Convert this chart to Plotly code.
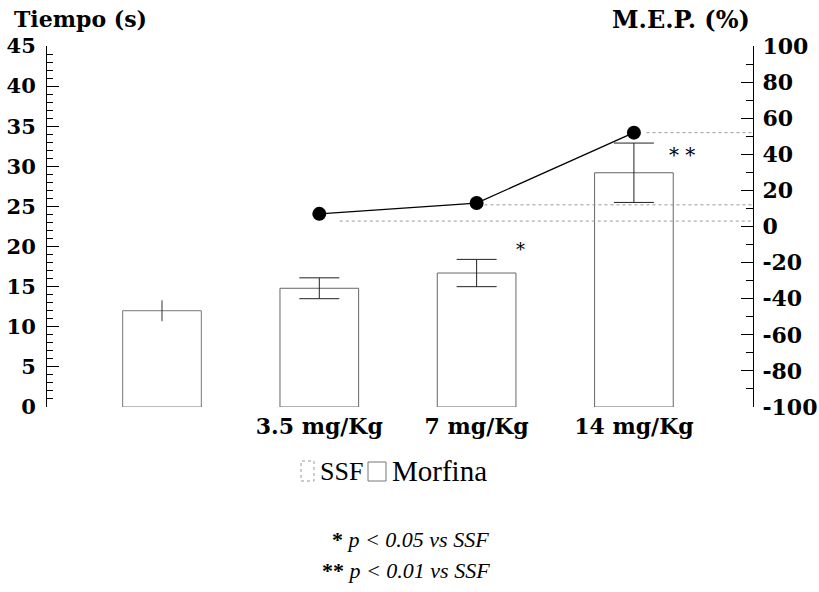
import plotly.graph_objects as go

# Latency (s) per group
categories = ["", "3.5 mg/Kg", "7 mg/Kg", "14 mg/Kg"]
ssf_time = [12.0]
ssf_err = [1.3]
morf_time = [14.8, 16.7, 29.2]
morf_err = [1.3, 1.7, 3.7]

# Maximum possible effect (%) for the morphine doses
mep = [7, 13, 52]
mep_ref = [3, 12, 52]
mep_ref_start = [1.13, 2.05, 3.08]

# right-axis tick labels (plain hyphen for negatives)
mep_ticks = [-100, -80, -60, -40, -20, 0, 20, 40, 60, 80, 100]
mep_ticktext = [str(v) if v >= 0 else "-" + str(-v) for v in mep_ticks]

xpos = list(range(len(categories)))
serif = "DejaVu Serif"
times = "Liberation Serif"

W, H = 819, 592
ml, mr, mt, mb = 47, 66, 46, 185
pw, ph = W - ml - mr, H - mt - mb


def px(x):
    return (x - ml) / pw


def py(y):
    return 1 - (y - mt) / ph


fig = go.Figure()

fig.add_trace(go.Bar(
    x=xpos[:1], y=ssf_time, width=0.5, name="SSF",
    marker=dict(color="white", line=dict(color="#777777", width=1)),
    error_y=dict(type="data", array=ssf_err, color="#333333", thickness=1, width=0),
))
fig.add_trace(go.Bar(
    x=xpos[1:], y=morf_time, width=0.5, name="Morfina",
    marker=dict(color="white", line=dict(color="#666666", width=1)),
    error_y=dict(type="data", array=morf_err, color="#222222", thickness=1, width=20),
))

# faint reference lines toward the right axis
for yv, x0 in zip(mep_ref, mep_ref_start):
    fig.add_trace(go.Scatter(
        x=[x0, 3.757], y=[yv, yv], yaxis="y2", mode="lines",
        line=dict(color="#999999", width=1, dash="dot"),
        showlegend=False, hoverinfo="skip",
    ))

fig.add_trace(go.Scatter(
    x=xpos[1:], y=mep, yaxis="y2", mode="lines+markers",
    line=dict(color="black", width=1.3),
    marker=dict(color="black", size=14),
    showlegend=False,
))

# significance marks
fig.add_annotation(x=2.276, y=19.6, text="*", showarrow=False,
                   font=dict(family=serif, size=18, color="black"))
fig.add_annotation(x=3.306, y=31.4, text="* *", showarrow=False,
                   font=dict(family=serif, size=20, color="black"))

# axis titles
fig.add_annotation(x=px(12), y=py(19), xref="paper", yref="paper", text="Tiempo (s)",
                   showarrow=False, xanchor="left", yanchor="middle",
                   font=dict(family=serif, size=22, color="black", weight="bold"))
fig.add_annotation(x=px(752), y=py(19), xref="paper", yref="paper", text="M.E.P. (%)",
                   showarrow=False, xanchor="right", yanchor="middle",
                   font=dict(family=serif, size=24, color="black", weight="bold"))

# legend built from boxes and labels
fig.add_shape(type="rect", xref="paper", yref="paper",
              x0=px(301), x1=px(314), y0=py(481), y1=py(461),
              line=dict(color="#999999", width=1, dash="dot"), fillcolor="white")
fig.add_annotation(x=px(318), y=py(471), xref="paper", yref="paper", text="SSF",
                   showarrow=False, xanchor="left", yanchor="middle",
                   font=dict(family=times, size=26, color="black"))
fig.add_shape(type="rect", xref="paper", yref="paper",
              x0=px(368), x1=px(386), y0=py(481), y1=py(462),
              line=dict(color="#777777", width=1), fillcolor="white")
fig.add_annotation(x=px(390), y=py(471), xref="paper", yref="paper", text="Morfina",
                   showarrow=False, xanchor="left", yanchor="middle",
                   font=dict(family=times, size=29, color="black"))

# footnotes
fig.add_annotation(x=px(410), y=py(554), xref="paper", yref="paper",
                   text="<b>*</b> <i>p &lt; 0.05 vs SSF</i>", showarrow=False,
                   font=dict(family=times, size=22, color="black"))
fig.add_annotation(x=px(406), y=py(585), xref="paper", yref="paper",
                   text="<b>**</b> <i>p &lt; 0.01 vs SSF</i>", showarrow=False,
                   font=dict(family=times, size=22, color="black"))

fig.update_layout(
    width=W, height=H,
    margin=dict(l=ml, r=mr, t=mt, b=mb, autoexpand=False),
    paper_bgcolor="white", plot_bgcolor="white",
    barmode="overlay", showlegend=False,
    xaxis=dict(
        range=[-0.731, 3.757], tickmode="array", tickvals=xpos, ticktext=categories,
        showline=False, showgrid=False, zeroline=False, ticks="",
        tickfont=dict(family=serif, size=22, color="black", weight="bold"),
        ticklabelstandoff=4,
    ),
    yaxis=dict(
        range=[0, 45], tickmode="linear", tick0=0, dtick=5,
        showline=True, linecolor="black", linewidth=1,
        ticks="inside", ticklen=12, tickwidth=1, tickcolor="black",
        minor=dict(ticks="inside", ticklen=6, dtick=1, tickcolor="black", showgrid=False),
        showgrid=False, zeroline=False,
        tickfont=dict(family=serif, size=21, color="black", weight="bold"),
        ticklabelstandoff=6,
    ),
    yaxis2=dict(
        range=[-100, 100], overlaying="y", side="right",
        tickmode="array", tickvals=mep_ticks, ticktext=mep_ticktext,
        showline=True, linecolor="black", linewidth=1,
        ticks="inside", ticklen=12, tickwidth=1, tickcolor="black",
        minor=dict(ticks="inside", ticklen=7, dtick=10, tick0=0, tickcolor="black", showgrid=False),
        showgrid=False, zeroline=False,
        tickfont=dict(family=serif, size=22, color="black", weight="bold"),
        ticklabelstandoff=4,
    ),
)

fig.write_html("out.html")
